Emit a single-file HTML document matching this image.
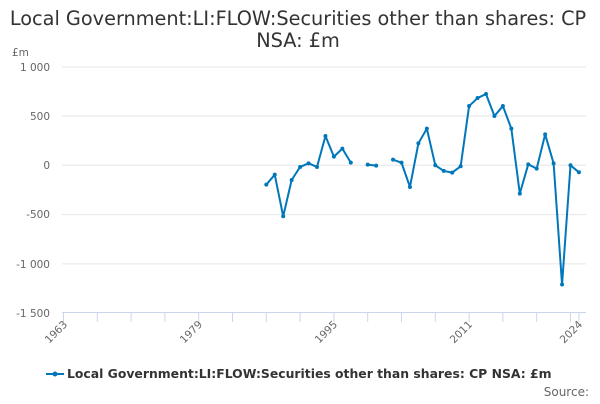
<!DOCTYPE html>
<html><head><meta charset="utf-8"><style>
body{margin:0;background:#fff;font-family:"DejaVu Sans",sans-serif;}
</style></head><body>
<svg width="600" height="400" xmlns="http://www.w3.org/2000/svg" font-family="DejaVu Sans, sans-serif">
<rect width="600" height="400" fill="#fff"/>
<text x="298" y="25" text-anchor="middle" font-size="19.3" fill="#333">Local Government:LI:FLOW:Securities other than shares: CP</text>
<text x="298" y="47" text-anchor="middle" font-size="19.3" fill="#333">NSA: £m</text>
<text x="12" y="56" font-size="10.5" fill="#666">£m</text>
<g stroke="#e6e6e6" stroke-width="1">
<line x1="62" x2="586" y1="67" y2="67"/>
<line x1="62" x2="586" y1="116" y2="116"/>
<line x1="62" x2="586" y1="165.3" y2="165.3"/>
<line x1="62" x2="586" y1="214.6" y2="214.6"/>
<line x1="62" x2="586" y1="263.9" y2="263.9"/>
</g>
<line x1="62" x2="586" y1="312.5" y2="312.5" stroke="#ccd6eb"/>
<g font-size="10.5" fill="#666" text-anchor="end">
<text x="50" y="71">1 000</text>
<text x="50" y="120">500</text>
<text x="50" y="169">0</text>
<text x="50" y="218">-500</text>
<text x="50" y="268">-1 000</text>
<text x="50" y="317">-1 500</text>
</g>
<g stroke="#ccd6eb" id="ticks"></g>
<g font-size="10.5" fill="#666" text-anchor="end">
<text transform="translate(68,325) rotate(-45)">1963</text>
<text transform="translate(203,325) rotate(-45)">1979</text>
<text transform="translate(338,325) rotate(-45)">1995</text>
<text transform="translate(473,325) rotate(-45)">2011</text>
<text transform="translate(583,325) rotate(-45)">2024</text>
</g>
<g id="series" fill="none" stroke="#0077bb" stroke-width="2" stroke-linejoin="round"></g>
<line x1="46" x2="64" y1="374" y2="374" stroke="#0077bb" stroke-width="2"/>
<circle cx="55" cy="374" r="2.5" fill="#0077bb"/>
<text x="67" y="378" font-size="12.4" font-weight="bold" fill="#333">Local Government:LI:FLOW:Securities other than shares: CP NSA: £m</text>
<text x="589" y="396" font-size="12" fill="#666" text-anchor="end">Source:</text>
</svg>
<script>
var ns="http://www.w3.org/2000/svg";
function X(y){return 63.5+(y-1963)*8.45;}
function Y(v){return 165.3-v*49.3/500;}
var t=document.getElementById("ticks");
function tk(x){var l=document.createElementNS(ns,"line");
l.setAttribute("x1",x);l.setAttribute("x2",x);l.setAttribute("y1",312.5);l.setAttribute("y2",322);t.appendChild(l);}
for(var y=1963;y<=2024;y+=4)tk(X(y));
tk(X(2024));
var segs=[[[1987,-196],[1988,-95],[1989,-517],[1990,-149],[1991,-17],[1992,20],[1993,-17],[1994,297],[1995,88],[1996,169],[1997,27]],
[[1999,7],[2000,-3]],
[[2002,57],[2003,27],[2004,-220],[2005,223],[2006,372],[2007,0],[2008,-57],[2009,-74],[2010,-10],[2011,601],[2012,682],[2013,723],[2014,500],[2015,601],[2016,372],[2017,-287],[2018,10],[2019,-34],[2020,314],[2021,20],[2022,-1209],[2023,0],[2024,-71]]];
var g=document.getElementById("series");
segs.forEach(function(s){var p=document.createElementNS(ns,"polyline");
p.setAttribute("points",s.map(function(d){return X(d[0])+","+Y(d[1]);}).join(" "));g.appendChild(p);
s.forEach(function(d){var c=document.createElementNS(ns,"circle");c.setAttribute("cx",X(d[0]));c.setAttribute("cy",Y(d[1]));c.setAttribute("r",2);c.setAttribute("fill","#0077bb");c.setAttribute("stroke","none");g.appendChild(c);});});
</script>
</body></html>
